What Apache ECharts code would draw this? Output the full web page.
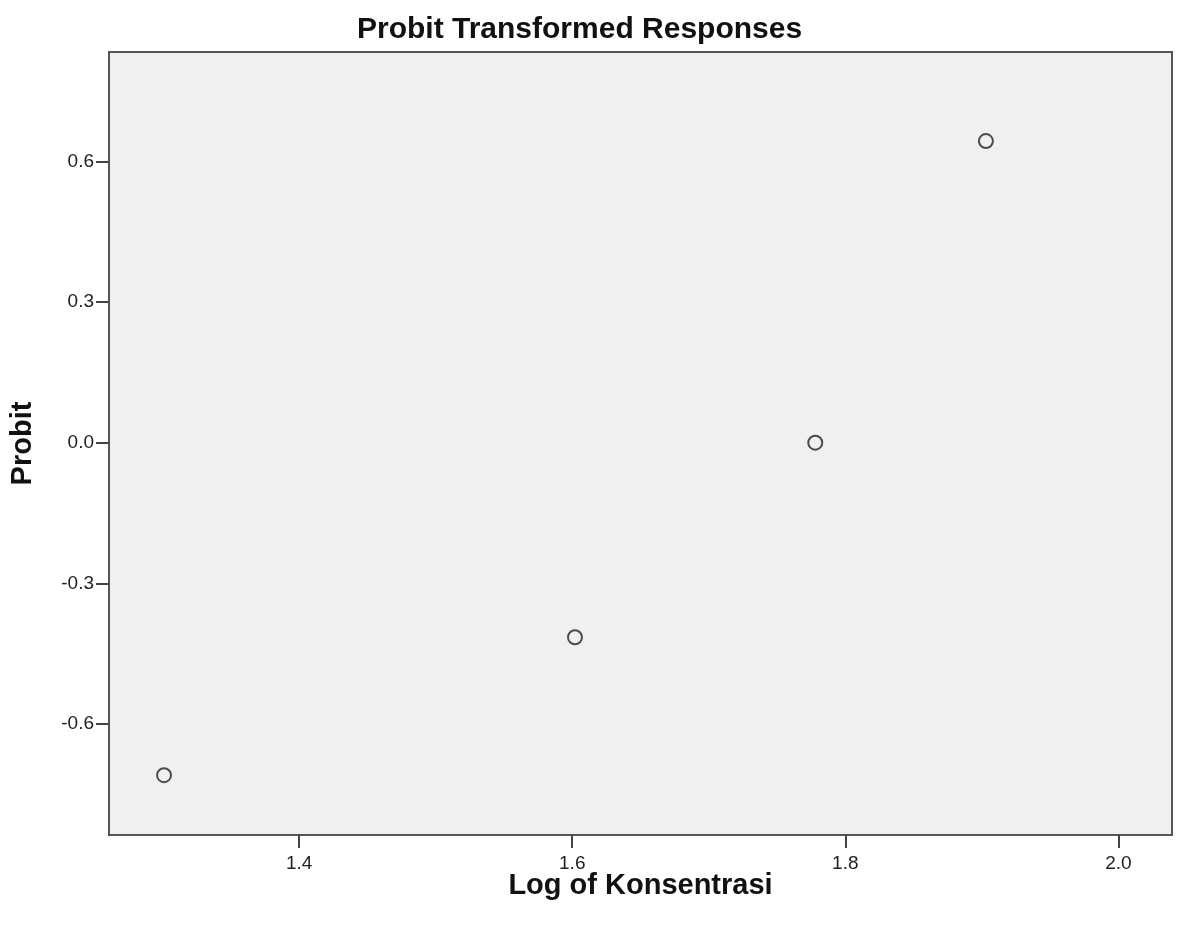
<!DOCTYPE html>
<html>
<head>
<meta charset="utf-8">
<script src="https://cdn.jsdelivr.net/npm/echarts@6/dist/echarts.min.js"></script>
<style>html,body{margin:0;padding:0;background:#fff}#c{width:1177px;height:931px}</style>
</head>
<body>
<div id="c"></div>
<script>
var logConc = [1.301, 1.602, 1.778, 1.903];
var probit = [-0.709, -0.415, 0.0, 0.643];
var xTicks = [1.4, 1.6, 1.8, 2.0];
var yTicks = [-0.6, -0.3, 0.0, 0.3, 0.6];

var points = logConc.map(function (x, i) { return [x, probit[i]]; });
var chart = echarts.init(document.getElementById('c'));
var font = 'Liberation Sans, Arial, sans-serif';
chart.setOption({
  backgroundColor: '#ffffff',
  animation: false,
  title: {
    text: 'Probit Transformed Responses',
    left: 352,
    top: 10,
    textStyle: { fontFamily: font, fontSize: 30, fontWeight: 'bold', color: '#111' }
  },
  grid: {
    left: 107, right: 5, top: 52, bottom: 96,
    show: true, backgroundColor: '#f0f0f0', borderColor: '#555', borderWidth: 2
  },
  xAxis: {
    type: 'value', min: 1.2607, max: 2.0393,
    name: 'Log of Konsentrasi', nameLocation: 'middle', nameGap: 36, nameMoveOverlap: false,
    nameTextStyle: { fontFamily: font, fontSize: 29, fontWeight: 'bold', color: '#111' },
    axisLine: { show: true, onZero: false, lineStyle: { color: '#555', width: 2 } },
    axisTick: { show: true, length: 13, inside: false, customValues: xTicks, lineStyle: { color: '#444', width: 2 } },
    axisLabel: { customValues: xTicks, margin: 19, fontFamily: font, fontSize: 19, color: '#222',
      formatter: function (v) { return v.toFixed(1); } },
    splitLine: { show: false }
  },
  yAxis: {
    type: 'value', min: -0.8366, max: 0.833,
    name: 'Probit', nameLocation: 'middle', nameGap: 72, nameRotate: 90,
    nameTextStyle: { fontFamily: font, fontSize: 29, fontWeight: 'bold', color: '#111' },
    axisLine: { show: true, onZero: false, lineStyle: { color: '#555', width: 2 } },
    axisTick: { show: true, length: 13, inside: false, customValues: yTicks, lineStyle: { color: '#444', width: 2 } },
    axisLabel: { customValues: yTicks, margin: 15, fontFamily: font, fontSize: 19, color: '#222',
      formatter: function (v) { return v.toFixed(1); } },
    splitLine: { show: false }
  },
  series: [{
    type: 'scatter',
    data: points,
    symbol: 'circle',
    symbolSize: 14,
    itemStyle: { color: 'rgba(0,0,0,0)', borderColor: '#222', borderWidth: 2 }
  }]
});
</script>
</body>
</html>
